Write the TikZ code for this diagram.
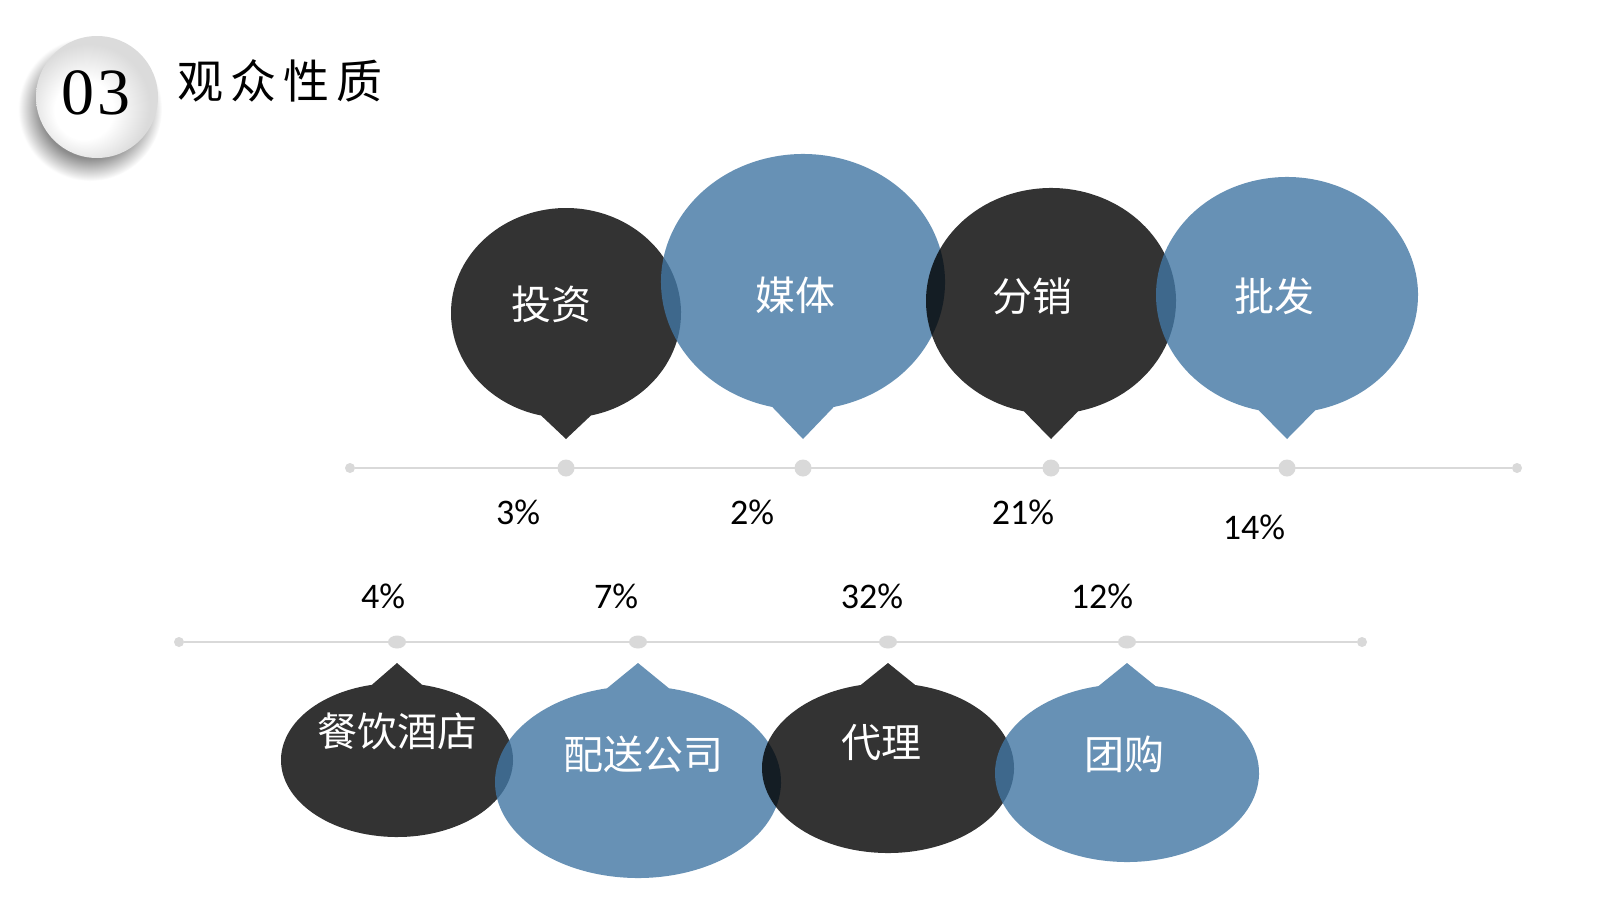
\documentclass[tikz,border=0pt]{standalone}
\usepackage{fontspec}
\usetikzlibrary{shapes.geometric}
\newfontfamily\cjk{Noto Sans CJK SC}
\newfontfamily\pctfont{Carlito}
\newfontfamily\numfont{Liberation Serif}
\definecolor{bubbleblue}{RGB}{65,118,163}
\definecolor{tlgray}{RGB}{217,217,217}
\pgfdeclareradialshading{btnshadow}{\pgfpoint{0bp}{0bp}}{color(0bp)=(black!50); color(17bp)=(black!45); color(25bp)=(white); color(50bp)=(white)}
\pgfdeclareradialshading{btnface}{\pgfpoint{-7bp}{-7bp}}{color(0bp)=(white); color(12bp)=(white); color(25bp)=(black!14); color(50bp)=(black!14)}
\newcommand\bubbledn[6]{\fill[#1, opacity=0.8] ({#2+#4*cos(77.5)},{#3+#5*sin(77.5)}) arc[start angle=77.5, end angle=-257.5, x radius=#4, y radius=#5] -- (#2,#6) -- cycle;}
\newcommand\bubbleup[6]{\fill[#1, opacity=0.8] ({#2+#4*cos(-77.5)},{#3+#5*sin(-77.5)}) arc[start angle=-77.5, end angle=257.5, x radius=#4, y radius=#5] -- (#2,#6) -- cycle;}
\tikzset{
  bubtext/.style={text=white, inner sep=0pt, font=\cjk\fontsize{40}{48}\selectfont},
  pct/.style={text=black, inner sep=0pt, font=\pctfont\fontsize{36}{43}\selectfont},
  tline/.style={draw=tlgray, line width=1.6pt},
  bigdot/.style={circle, fill=tlgray, inner sep=0pt, minimum size=17pt},
  ovaldot/.style={ellipse, fill=tlgray, inner sep=0pt, minimum width=18pt, minimum height=13pt},
  enddot/.style={circle, fill=tlgray, inner sep=0pt, minimum size=10pt},
}
\begin{document}
\begin{tikzpicture}[x=1pt, y=-1pt]
\useasboundingbox (0,0) rectangle (1600,900);
\fill[white] (0,0) rectangle (1600,900);
% header button
\shade[shading=btnshadow] (90,109) circle (72);
\shade[shading=btnface] (97,97) circle (61);
\node[font=\numfont\fontsize{66}{72}\selectfont, inner sep=0pt] (num) at (96,93) {0\hspace{4pt}3};
\node[font=\cjk\fontsize{46}{55}\selectfont, inner sep=0pt, anchor=center] (title) at (280,81) {观\hspace{7pt}众\hspace{7pt}性\hspace{7pt}质};
% timelines
\node[enddot] (a0) at (350,468) {};
\node[enddot] (a5) at (1517,468) {};
\draw[tline] (a0) -- (a5);
\node[bigdot] (a1) at (566,468) {};
\node[bigdot] (a2) at (803,468) {};
\node[bigdot] (a3) at (1051,468) {};
\node[bigdot] (a4) at (1287,468) {};
\node[enddot] (b0) at (179,642) {};
\node[enddot] (b5) at (1362,642) {};
\draw[tline] (b0) -- (b5);
\node[ovaldot] (b1) at (397,642) {};
\node[ovaldot] (b2) at (638,642) {};
\node[ovaldot] (b3) at (888,642) {};
\node[ovaldot] (b4) at (1127,642) {};
% top bubbles
\bubbledn{black}{566}{313}{115}{105}{439}
\bubbledn{bubbleblue}{803}{282}{142}{128}{439}
\bubbledn{black}{1051}{301}{125}{113}{439}
\bubbledn{bubbleblue}{1287}{295}{131}{118}{439}
% bottom bubbles
\bubbleup{black}{397}{760}{116}{77}{663}
\bubbleup{bubbleblue}{638}{782}{143}{96}{663}
\bubbleup{black}{888}{768}{126}{85}{663}
\bubbleup{bubbleblue}{1127}{773}{132}{89}{663}
% bubble texts
\node[bubtext] (t1) at (551,304) {投资};
\node[bubtext] (t2) at (795,295) {媒体};
\node[bubtext] (t3) at (1032,296) {分销};
\node[bubtext] (t4) at (1274,296) {批发};
\node[bubtext] (u1) at (397,731) {餐饮酒店};
\node[bubtext] (u2) at (643,754) {配送公司};
\node[bubtext] (u3) at (881,743) {代理};
\node[bubtext] (u4) at (1124,754) {团购};
% percentages
\node[pct] (p1) at (518,512) {3\%};
\node[pct] (p2) at (752,512) {2\%};
\node[pct] (p3) at (1023,512) {21\%};
\node[pct] (p4) at (1254,527) {14\%};
\node[pct] (q1) at (383,596) {4\%};
\node[pct] (q2) at (616,596) {7\%};
\node[pct] (q3) at (872,596) {32\%};
\node[pct] (q4) at (1102,596) {12\%};
\end{tikzpicture}
\end{document}
